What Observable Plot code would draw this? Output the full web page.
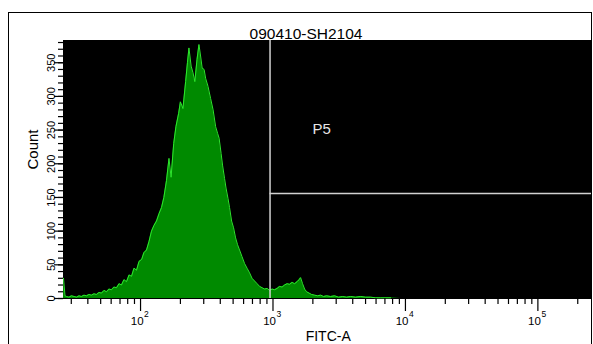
<!DOCTYPE html>
<html><head><meta charset="utf-8">
<script src="https://cdn.jsdelivr.net/npm/d3@7"></script>
<script src="https://cdn.jsdelivr.net/npm/@observablehq/plot@0.6"></script>
<style>
html,body{margin:0;padding:0;background:#fff;}
#wrap{position:relative;width:593px;height:344px;overflow:hidden;}
#wrap svg{position:absolute;left:0;top:0;}
#border{position:absolute;left:8px;top:12px;width:582px;height:400px;border:1.5px solid #000;pointer-events:none;}
</style></head><body><div id="wrap"></div>
<script>
const title = "090410-SH2104";
const xLabel = "FITC-A";
const yLabel = "Count";

// histogram: FITC-A bin positions and counts
const fitc = [
  26.2, 26.9, 27.6, 28.8, 30.1, 31.5, 32.9, 34.3, 35.8, 37.4,
  39.1, 40.8, 42.6, 44.5, 46.5, 48.6, 50.7, 53.0, 55.4, 57.8,
  60.4, 63.1, 65.9, 68.8, 71.8, 75.0, 78.4, 81.9, 85.5, 89.3,
  93.3, 97.4, 102, 106, 111, 116, 121, 126, 132, 138,
  144, 150, 157, 164, 170, 178, 185, 194, 200, 209,
  219, 226, 232, 241, 249, 257, 267, 276, 284, 292,
  302, 310, 323, 338, 353, 369, 382, 392, 406, 416,
  431, 442, 458, 470, 487, 504, 522, 540, 559, 584,
  610, 637, 666, 695, 726, 759, 792, 828, 864, 903,
  943, 985, 1028, 1074, 1121, 1171, 1223, 1278, 1335, 1394,
  1456, 1521, 1574, 1616, 1673, 1733, 1794, 1874, 1957, 2062,
  2173, 2288, 2411, 2540, 2723, 2920, 3130, 3355, 3597, 3856,
  4207, 4587, 5005, 5461, 5956, 6497, 7729, 9199, 254000
];
const counts = [
  30, 4, 3, 2, 4, 3, 2, 4, 3, 5,
  4, 6, 5, 7, 6, 9, 8, 12, 10, 14,
  13, 17, 16, 22, 20, 28, 25, 35, 33, 45,
  42, 55, 58, 68, 72, 85, 100, 108, 115, 126,
  135, 150, 175, 208, 180, 230, 255, 275, 292, 282,
  322, 350, 372, 345, 335, 322, 355, 377, 360, 342,
  340, 327, 315, 297, 280, 255, 245, 238, 215, 198,
  178, 164, 148, 135, 115, 105, 90, 80, 72, 62,
  52, 45, 38, 30, 26, 22, 18, 16, 14, 15,
  12, 14, 13, 15, 18, 17, 20, 22, 21, 24,
  22, 25, 28, 31, 22, 14, 10, 8, 6, 5,
  4, 5, 3, 4, 3, 4, 2, 3, 2, 3,
  2, 3, 2, 2, 1, 1, 1, 0, 0
];

const xDomain = [26.2, 254000];
const yDomain = [0, 383];
const xMajor = [100, 1000, 10000, 100000];
const xExp = ["2", "3", "4", "5"];
const xMinor = [30, 40, 50, 60, 70, 80, 90,
  200, 300, 400, 500, 600, 700, 800, 900,
  2000, 3000, 4000, 5000, 6000, 7000, 8000, 9000,
  20000, 30000, 40000, 50000, 60000, 70000, 80000, 90000, 200000];
const yMajor = [0, 50, 100, 150, 200, 250, 300, 350];
const yMinor = [0, 10, 20, 30, 40, 50, 60, 70, 80, 90, 100, 110, 120, 130, 140, 150, 160, 170, 180, 190,
  200, 210, 220, 230, 240, 250, 260, 270, 280, 290, 300, 310, 320, 330, 340, 350, 360, 370, 380];

// gate P5
const gateName = "P5";
const gateX = 950;
const gateY = 156;
const gateLabelX = 2330;
const gateLabelY = 251;

const data = fitc.map((v, i) => ({fitc: v, count: counts[i]}));
const outline = data.filter(d => d.count > 0 || d.fitc < 9000);
const font = "'Liberation Sans', Arial, sans-serif";

const chart = Plot.plot({
  width: 593, height: 344,
  marginLeft: 63, marginRight: 2, marginTop: 40, marginBottom: 46,
  style: {background: "transparent", fontFamily: font, color: "#000"},
  x: {type: "log", domain: xDomain, axis: null},
  y: {domain: yDomain, axis: null},
  marks: [
    Plot.frame({fill: "#000", stroke: "#000"}),
    Plot.areaY(data, {x: "fitc", y: "count", fill: "#008a00"}),
    Plot.lineY(outline, {x: "fitc", y: "count", stroke: "#2de62d", strokeWidth: 1}),
    Plot.ruleX([gateX], {stroke: "#d2d2d2", strokeWidth: 1.5}),
    Plot.ruleY([gateY], {x1: gateX, x2: xDomain[1], stroke: "#d2d2d2", strokeWidth: 1.5}),
    Plot.text([gateName], {x: gateLabelX, y: gateLabelY, text: d => d, fill: "#e6e6e6", fontSize: 15}),
    Plot.axisX(xMinor, {tickSize: 6, tickFormat: () => "", label: null, stroke: "#000", strokeWidth: 1.2}),
    Plot.axisX(xMajor, {tickSize: 13, tickFormat: () => "", label: null, stroke: "#000", strokeWidth: 1.2}),
    Plot.axisY(yMinor, {tickSize: 5, tickFormat: () => "", label: null, stroke: "#000", strokeWidth: 1.2}),
    Plot.axisY(yMajor, {tickSize: 9, tickFormat: () => "", label: null, stroke: "#000", strokeWidth: 1.2}),
    Plot.text(xMajor, {x: d => d, frameAnchor: "bottom", text: () => "10", textAnchor: "end", lineAnchor: "bottom", dx: 3, dy: 26.3, fontSize: 11.5, fill: "#000"}),
    Plot.text(xMajor, {x: d => d, frameAnchor: "bottom", text: (d, i) => xExp[i], textAnchor: "start", lineAnchor: "bottom", dx: 3.5, dy: 18.7, fontSize: 8.5, fill: "#000"}),
    Plot.text(yMajor, {y: d => d, frameAnchor: "left", text: d => String(d), rotate: -90, textAnchor: "middle", lineAnchor: "bottom", dx: -8.5, fontSize: 11, fill: "#000"}),
    Plot.text([title], {frameAnchor: "top", text: d => d, lineAnchor: "bottom", dx: -21.5, dy: -1.5, fontSize: 15.5, fill: "#000"}),
    Plot.text([xLabel], {frameAnchor: "bottom", text: d => d, lineAnchor: "bottom", dx: 0.7, dy: 42.8, fontSize: 14, fill: "#000"}),
    Plot.text([yLabel], {frameAnchor: "left", text: d => d, rotate: -90, lineAnchor: "bottom", dx: -25.5, fontSize: 15, fill: "#000"})
  ]
});
const wrap = document.getElementById("wrap");
wrap.appendChild(chart);
const b = document.createElement("div");
b.id = "border";
wrap.appendChild(b);
</script>
</body></html>
